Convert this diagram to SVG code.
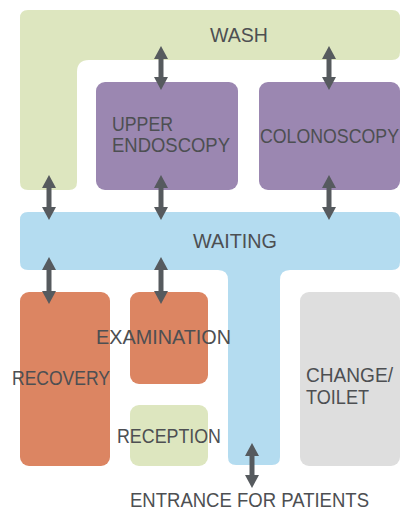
<svg xmlns="http://www.w3.org/2000/svg" width="405" height="515" viewBox="0 0 405 515">
<style>
.lbl{font-family:"Liberation Sans",Arial,sans-serif;font-size:21px;fill:#4d4f52}
.sm{font-size:20px}
.arr{stroke:#565a5e;stroke-width:5;fill:none;marker-start:url(#ah);marker-end:url(#ah)}
</style>
<defs>
<marker id="ah" viewBox="0 0 13 14" markerWidth="13" markerHeight="14" refX="2" refY="7" markerUnits="userSpaceOnUse" orient="auto-start-reverse">
<path d="M0,0 L13,7 L0,14 Z" fill="#565a5e"/>
</marker>
</defs>
<rect width="405" height="515" fill="#ffffff"/>
<g id="wash">
<path d="M28,10 H392 Q400,10 400,18 V52 Q400,60 392,60 H89 Q77,60 77,72 V182 Q77,190 69,190 H28 Q20,190 20,182 V18 Q20,10 28,10 Z" fill="#dde6bf"/>
<text class="lbl" x="210" y="42" textLength="58" lengthAdjust="spacingAndGlyphs">WASH</text>
</g>
<g id="upper-endoscopy">
<rect x="96" y="82" width="142" height="108" rx="9" fill="#9b87b1"/>
<text class="lbl" x="112" y="131" textLength="61" lengthAdjust="spacingAndGlyphs">UPPER</text>
<text class="lbl" x="112" y="152" textLength="118" lengthAdjust="spacingAndGlyphs">ENDOSCOPY</text>
</g>
<g id="colonoscopy">
<rect x="259" y="82" width="141" height="108" rx="9" fill="#9b87b1"/>
<text class="lbl" style="font-size:18px" x="260" y="122.2" transform="scale(1,1.17)" textLength="139" lengthAdjust="spacingAndGlyphs">COLONOSCOPY</text>
</g>
<g id="waiting">
<path d="M28,212 H392 Q400,212 400,220 V262 Q400,270 392,270 H290 Q280,270 280,280 V457 Q280,465 272,465 H236 Q228,465 228,457 V280 Q228,270 218,270 H28 Q20,270 20,262 V220 Q20,212 28,212 Z" fill="#b4dcf0"/>
<text class="lbl" x="193" y="248" textLength="84" lengthAdjust="spacingAndGlyphs">WAITING</text>
</g>
<g id="recovery">
<rect x="20" y="292" width="90" height="174" rx="9" fill="#dc8562"/>
<text class="lbl" x="12" y="385" textLength="98" lengthAdjust="spacingAndGlyphs">RECOVERY</text>
</g>
<g id="examination">
<rect x="130" y="292" width="78" height="92" rx="9" fill="#dc8562"/>
<text class="lbl" x="96" y="344" textLength="135" lengthAdjust="spacingAndGlyphs">EXAMINATION</text>
</g>
<g id="reception">
<rect x="130" y="405" width="78" height="61" rx="9" fill="#dde6bf"/>
<text class="lbl" x="117" y="443" textLength="104" lengthAdjust="spacingAndGlyphs">RECEPTION</text>
</g>
<g id="change-toilet">
<rect x="300" y="292" width="100" height="174" rx="9" fill="#dedede"/>
<text class="lbl sm" x="306" y="382" textLength="87" lengthAdjust="spacingAndGlyphs">CHANGE/</text>
<text class="lbl sm" x="306" y="404" textLength="63" lengthAdjust="spacingAndGlyphs">TOILET</text>
</g>
<g id="entrance">
<text class="lbl" x="130" y="507" textLength="239" lengthAdjust="spacingAndGlyphs">ENTRANCE FOR PATIENTS</text>
</g>
<g id="connectors">
<line class="arr" x1="49" y1="186" x2="49" y2="209"/>
<line class="arr" x1="161" y1="57" x2="161" y2="79"/>
<line class="arr" x1="329" y1="57" x2="329" y2="79"/>
<line class="arr" x1="161" y1="186" x2="161" y2="209"/>
<line class="arr" x1="329" y1="186" x2="329" y2="209"/>
<line class="arr" x1="49" y1="268" x2="49" y2="293"/>
<line class="arr" x1="161" y1="268" x2="161" y2="293"/>
<line class="arr" x1="252" y1="454" x2="252" y2="477"/>
</g>
</svg>
